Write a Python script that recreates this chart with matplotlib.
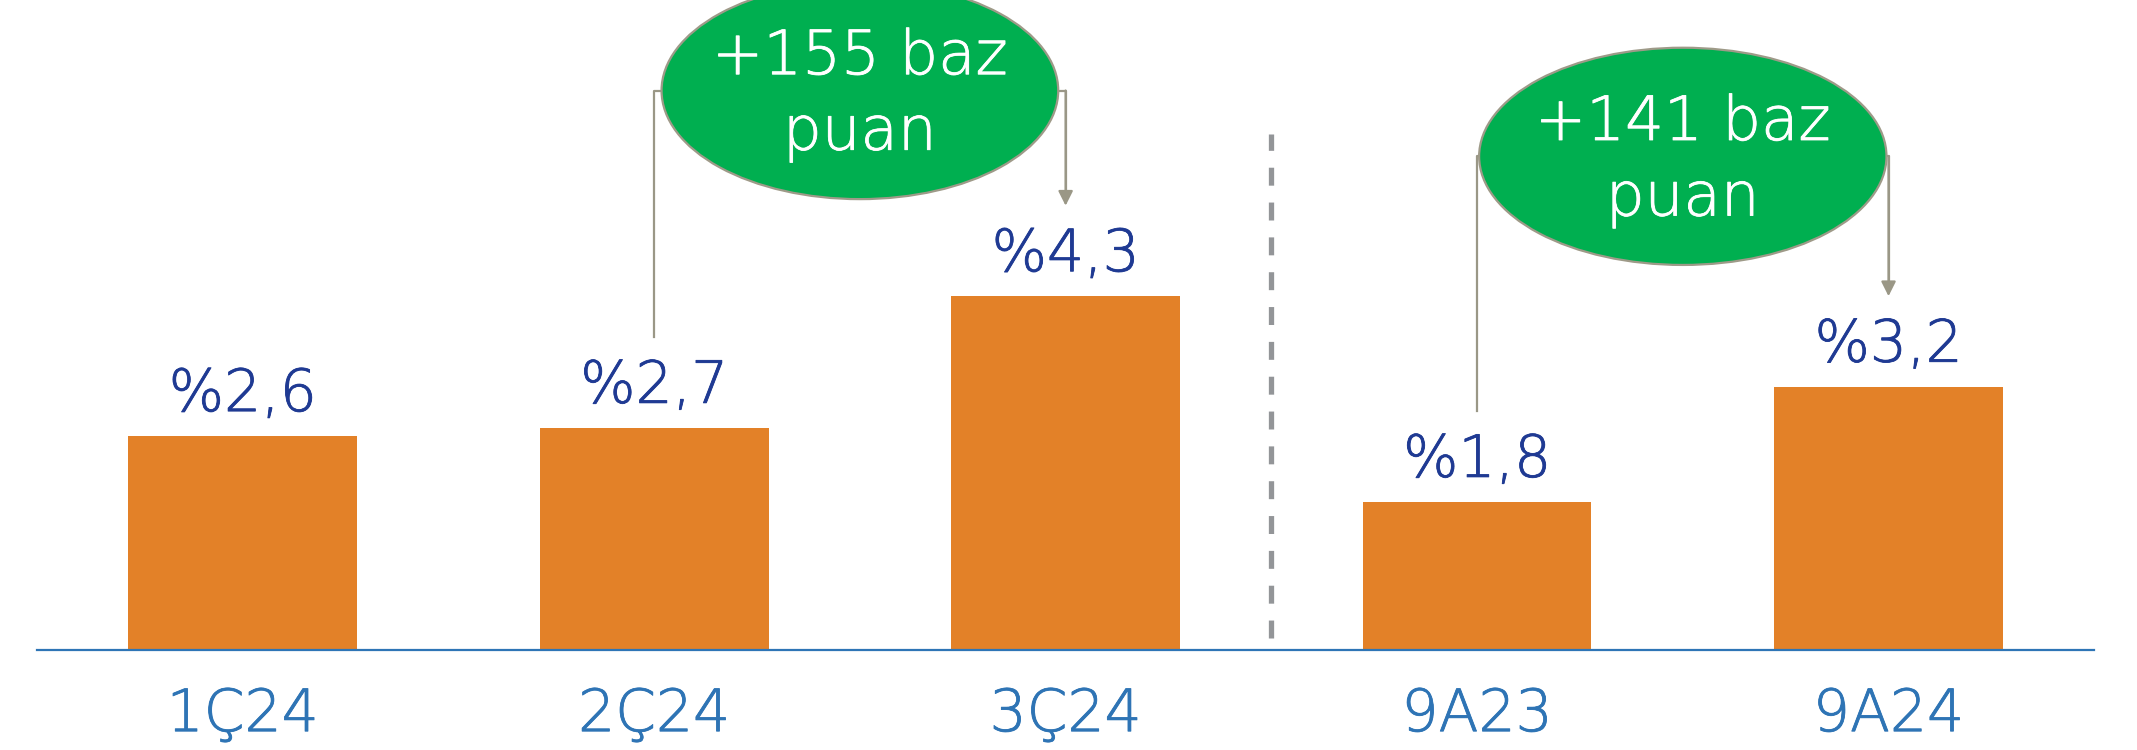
import numpy as np
import matplotlib.pyplot as plt
import matplotlib.patheffects as pe
from matplotlib.patches import Ellipse

# veriler
categories = ['1Ç24', '2Ç24', '3Ç24', '9A23', '9A24']
values = [2.6, 2.7, 4.3, 1.8, 3.2]
value_labels = ['%2,6', '%2,7', '%4,3', '%1,8', '%3,2']
change_labels = ['+155 baz\npuan', '+141 baz\npuan']
change_pairs = [(1, 2), (3, 4)]

plt.rcParams['font.family'] = ['DejaVu Sans']
plt.rcParams['font.weight'] = 'light'


def kalin(renk):
    # ince fontu biraz kalinlastir
    return [pe.withStroke(linewidth=0.6, foreground=renk)]


fig = plt.figure(figsize=(21.37, 7.5), dpi=100)
ax = fig.add_axes([0.0173, 0.1333, 0.9627, 0.8667])

x = np.arange(len(categories))
ax.bar(x, values, width=0.556, color='#E38128', zorder=2)

for xi, v, s in zip(x, values, value_labels):
    ax.annotate(s, (xi, v), xytext=(0, 18), textcoords='offset points',
                ha='center', va='baseline', fontsize=42, color='#1F3A93',
                fontweight='light', path_effects=kalin('#1F3A93'))

# ayirici kesikli cizgi
ax.plot([2.5, 2.5], [0.15, 6.27], color='#939598', lw=3.8,
        dashes=(3.4, 3.2), solid_capstyle='butt', zorder=1)

# baz puan balonlari
ell_y = [6.8, 6.0]
ell_w = [0.964, 0.99]
line_col = '#9A9786'
for (a, b), txt, ey, ew in zip(change_pairs, change_labels, ell_y, ell_w):
    cx = (a + b) / 2
    ax.plot([a, a, b, b], [values[a] + 1.1, ey, ey, values[b] + 1.3],
            color=line_col, lw=1.6, zorder=3, clip_on=False)
    ax.annotate('', xy=(b, values[b] + 1.1), xytext=(b, ey),
                arrowprops=dict(arrowstyle='-|>', color=line_col, lw=1.6,
                                mutation_scale=22, shrinkA=0, shrinkB=0),
                zorder=3)
    ax.add_patch(Ellipse((cx, ey), ew, 2.64, facecolor='#00AF50',
                         edgecolor='#9E9A88', lw=1.6, zorder=4, clip_on=False))
    ax.text(cx, ey - 0.06, txt, ha='center', va='center', fontsize=44,
            color='white', linespacing=1.36, fontweight='light',
            path_effects=kalin('white'), zorder=5)

ax.set_xlim(-0.5, 4.5)
ax.set_ylim(0, 7.9)
ax.set_xticks(x)
ax.set_xticklabels(categories, fontsize=42, color='#2E74B5', fontweight='light',
                   path_effects=kalin('#2E74B5'))
ax.tick_params(axis='x', length=0, pad=26)
ax.set_yticks([])
for sp in ['top', 'right', 'left']:
    ax.spines[sp].set_visible(False)
ax.spines['bottom'].set_color('#2E75B6')
ax.spines['bottom'].set_linewidth(1.6)
ax.spines['bottom'].set_zorder(3)

plt.savefig('out.png', dpi=100)
